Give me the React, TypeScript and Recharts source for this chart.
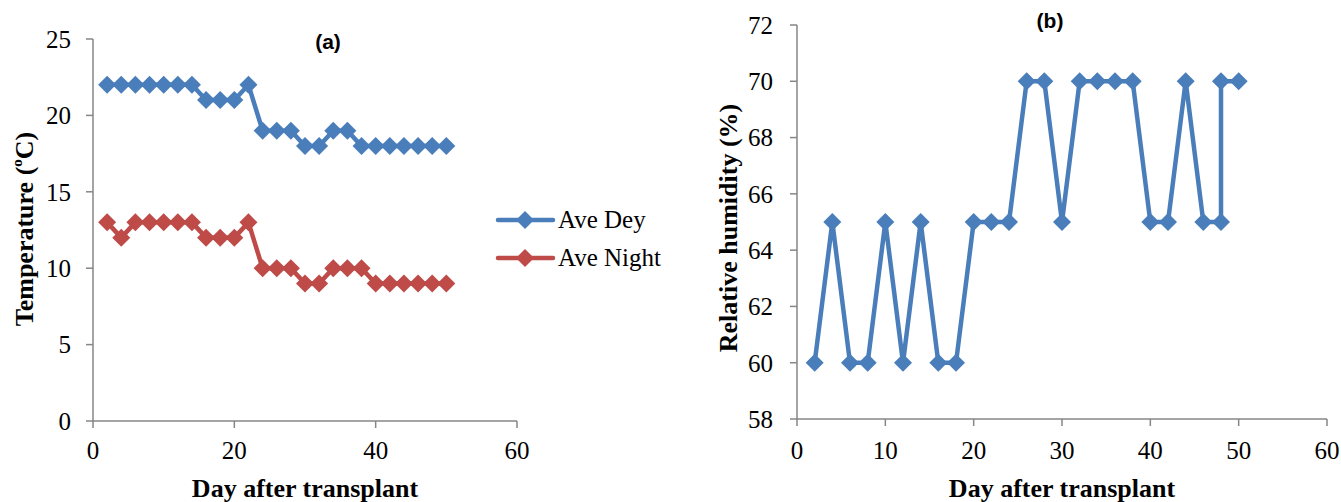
import React from 'react';
import { LineChart, Line, XAxis, YAxis, Legend, Label } from 'recharts';

// ---- Data ----
const tempDays = [2, 4, 6, 8, 10, 12, 14, 16, 18, 20, 22, 24, 26, 28, 30, 32, 34, 36, 38, 40, 42, 44, 46, 48, 50];
const aveDey = [22, 22, 22, 22, 22, 22, 22, 21, 21, 21, 22, 19, 19, 19, 18, 18, 19, 19, 18, 18, 18, 18, 18, 18, 18];
const aveNight = [13, 12, 13, 13, 13, 13, 13, 12, 12, 12, 13, 10, 10, 10, 9, 9, 10, 10, 10, 9, 9, 9, 9, 9, 9];

const rhDays = [2, 4, 6, 8, 10, 12, 14, 16, 18, 20, 22, 24, 26, 28, 30, 32, 34, 36, 38, 40, 42, 44, 46, 48, 48, 50];
const rhValues = [60, 65, 60, 60, 65, 60, 65, 60, 60, 65, 65, 65, 70, 70, 65, 70, 70, 70, 70, 65, 65, 70, 65, 65, 70, 70];

const xTicks = [0, 20, 40, 60];
const tempTicks = [0, 5, 10, 15, 20, 25];
const rhXTicks = [0, 10, 20, 30, 40, 50, 60];
const rhYTicks = [58, 60, 62, 64, 66, 68, 70, 72];

const seriesNames = ['Ave Dey', 'Ave Night'];

const BLUE = '#4A7EBB';
const RED = '#BE4B48';
const AXIS = '#868686';
const SERIF = '"Liberation Serif", "Times New Roman", serif';
const SANS = '"Liberation Sans", Arial, sans-serif';

const tempData = tempDays.map((d, i) => ({ day: d, dey: aveDey[i], night: aveNight[i] }));
const rhData = rhDays.map((d, i) => ({ day: d, rh: rhValues[i] }));

const R = 9;
const diamond = (color: string) => (props: any) => {
  const { cx, cy, index } = props;
  if (cx == null || cy == null) return <g key={index} />;
  return (
    <polygon
      key={index}
      points={`${cx},${cy - R} ${cx + R},${cy} ${cx},${cy + R} ${cx - R},${cy}`}
      fill={color}
      stroke="none"
    />
  );
};

const XTick = (props: any) => {
  const { x, y, payload } = props;
  return (
    <text x={x} y={y} dy="0.71em" textAnchor="middle" fontFamily={SERIF} fontSize={25} fill="#000">
      {payload.value}
    </text>
  );
};
const YTick = (props: any) => {
  const { x, y, payload } = props;
  return (
    <text x={x} y={y} dy="0.355em" textAnchor="end" fontFamily={SERIF} fontSize={25} fill="#000">
      {payload.value}
    </text>
  );
};

const LegendBox = () => (
  <svg width={200} height={90} style={{ display: 'block' }}>
    {[BLUE, RED].map((c, i) => {
      const y = 20 + i * 38;
      return (
        <g key={i}>
          <line x1={3} x2={58} y1={y} y2={y} stroke={c} strokeWidth={4.5} strokeLinecap="round" />
          <polygon points={`30,${y - R} ${30 + R},${y} 30,${y + R} ${30 - R},${y}`} fill={c} />
          <text x={63} y={y + 8} fontFamily={SERIF} fontSize={25} fill="#000">
            {seriesNames[i]}
          </text>
        </g>
      );
    })}
  </svg>
);

const titleStyle: React.CSSProperties = {
  position: 'absolute',
  width: 80,
  textAlign: 'center',
  fontFamily: SANS,
  fontWeight: 'bold',
  fontSize: 21,
  lineHeight: '24px',
};

export default function App() {
  return (
    <div style={{ position: 'absolute', left: 0, top: 0, width: 1341, height: 502, background: '#fff', overflow: 'hidden', fontFamily: SERIF }}>
      {/* Panel (a) */}
      <div style={{ position: 'absolute', left: 0, top: 0 }}>
        <LineChart width={700} height={502} data={tempData} margin={{ top: 39, right: 183, bottom: 0, left: 0 }}>
          <XAxis
            dataKey="day"
            type="number"
            domain={[0, 60]}
            ticks={xTicks}
            height={81}
            stroke={AXIS}
            strokeWidth={1.5}
            tickSize={7}
            tickMargin={13}
            tick={<XTick />}
            interval={0}
          >
            <Label
              content={() => (
                <text x={305} y={497} textAnchor="middle" fontFamily={SERIF} fontSize={26} fontWeight="bold" fill="#000">
                  Day after transplant
                </text>
              )}
            />
          </XAxis>
          <YAxis
            type="number"
            domain={[0, 25]}
            ticks={tempTicks}
            width={93}
            stroke={AXIS}
            strokeWidth={1.5}
            tickSize={7}
            tickMargin={15}
            tick={<YTick />}
            interval={0}
          >
            <Label
              content={() => (
                <text
                  x={33}
                  y={229}
                  transform="rotate(-90 33 229)"
                  textAnchor="middle"
                  fontFamily={SERIF}
                  fontSize={26}
                  fontWeight="bold"
                  fill="#000"
                >
                  Temperature (<tspan fontSize={15} dy={-11}>o</tspan>
                  <tspan dy={11}>C)</tspan>
                </text>
              )}
            />
          </YAxis>
          <Legend
            layout="vertical"
            align="center"
            verticalAlign="middle"
            wrapperStyle={{ left: 495, top: 200, width: 200, height: 90 }}
            content={() => <LegendBox />}
          />
          <Line
            dataKey="dey"
            name={seriesNames[0]}
            stroke={BLUE}
            strokeWidth={4.5}
            dot={diamond(BLUE)}
            activeDot={false}
            isAnimationActive={false}
          />
          <Line
            dataKey="night"
            name={seriesNames[1]}
            stroke={RED}
            strokeWidth={4.5}
            dot={diamond(RED)}
            activeDot={false}
            isAnimationActive={false}
          />
        </LineChart>
      </div>
      <div style={{ ...titleStyle, left: 288, top: 30 }}>(a)</div>

      {/* Panel (b) */}
      <div style={{ position: 'absolute', left: 680, top: 0 }}>
        <LineChart width={661} height={502} data={rhData} margin={{ top: 25, right: 14, bottom: 0, left: 0 }}>
          <XAxis
            dataKey="day"
            type="number"
            domain={[0, 60]}
            ticks={rhXTicks}
            height={83}
            stroke={AXIS}
            strokeWidth={1.5}
            tickSize={7}
            tickMargin={15}
            tick={<XTick />}
            interval={0}
          >
            <Label
              content={() => (
                <text x={382} y={497} textAnchor="middle" fontFamily={SERIF} fontSize={26} fontWeight="bold" fill="#000">
                  Day after transplant
                </text>
              )}
            />
          </XAxis>
          <YAxis
            type="number"
            domain={[58, 72]}
            ticks={rhYTicks}
            width={117}
            stroke={AXIS}
            strokeWidth={1.5}
            tickSize={7}
            tickMargin={17}
            tick={<YTick />}
            interval={0}
          >
            <Label
              content={() => (
                <text
                  x={57}
                  y={228}
                  transform="rotate(-90 57 228)"
                  textAnchor="middle"
                  fontFamily={SERIF}
                  fontSize={26}
                  fontWeight="bold"
                  fill="#000"
                >
                  Relative humidity (%)
                </text>
              )}
            />
          </YAxis>
          <Line
            dataKey="rh"
            stroke={BLUE}
            strokeWidth={4.5}
            dot={diamond(BLUE)}
            activeDot={false}
            isAnimationActive={false}
          />
        </LineChart>
      </div>
      <div style={{ ...titleStyle, left: 1010, top: 9 }}>(b)</div>
    </div>
  );
}
